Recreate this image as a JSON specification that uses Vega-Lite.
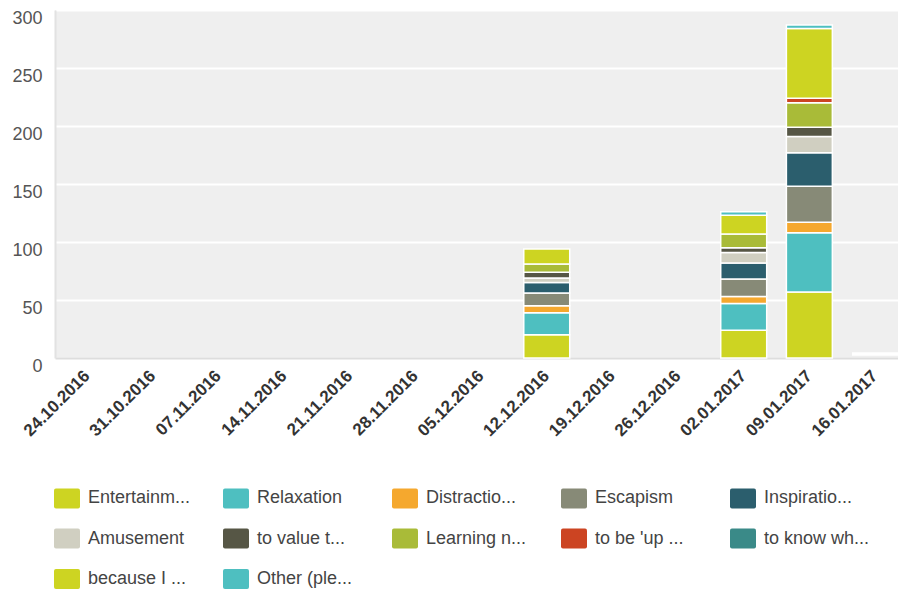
{
  "$schema": "https://vega.github.io/schema/vega-lite/v6.json",
  "width": 843,
  "height": 348,
  "autosize": "none",
  "padding": {"left": 55, "top": 10, "right": 0, "bottom": 233},
  "background": "white",
  "config": {
    "font": "Liberation Sans",
    "view": {"fill": "#efefef", "stroke": null}
  },
  "datasets": {
    "answers": [
      {"week": "12.12.2016", "motive": "Entertainm...", "rank": 1, "count": 20},
      {"week": "12.12.2016", "motive": "Relaxation", "rank": 2, "count": 19},
      {"week": "12.12.2016", "motive": "Distractio...", "rank": 3, "count": 6},
      {"week": "12.12.2016", "motive": "Escapism", "rank": 4, "count": 11},
      {"week": "12.12.2016", "motive": "Inspiratio...", "rank": 5, "count": 9},
      {"week": "12.12.2016", "motive": "Amusement", "rank": 6, "count": 4},
      {"week": "12.12.2016", "motive": "to value t...", "rank": 7, "count": 5},
      {"week": "12.12.2016", "motive": "Learning n...", "rank": 8, "count": 7},
      {"week": "12.12.2016", "motive": "because I ...", "rank": 11, "count": 13},
      {"week": "02.01.2017", "motive": "Entertainm...", "rank": 1, "count": 24},
      {"week": "02.01.2017", "motive": "Relaxation", "rank": 2, "count": 23},
      {"week": "02.01.2017", "motive": "Distractio...", "rank": 3, "count": 6},
      {"week": "02.01.2017", "motive": "Escapism", "rank": 4, "count": 15},
      {"week": "02.01.2017", "motive": "Inspiratio...", "rank": 5, "count": 14},
      {"week": "02.01.2017", "motive": "Amusement", "rank": 6, "count": 9},
      {"week": "02.01.2017", "motive": "to value t...", "rank": 7, "count": 4},
      {"week": "02.01.2017", "motive": "Learning n...", "rank": 8, "count": 12},
      {"week": "02.01.2017", "motive": "because I ...", "rank": 11, "count": 16},
      {"week": "02.01.2017", "motive": "Other (ple...", "rank": 12, "count": 3},
      {"week": "09.01.2017", "motive": "Entertainm...", "rank": 1, "count": 57},
      {"week": "09.01.2017", "motive": "Relaxation", "rank": 2, "count": 51},
      {"week": "09.01.2017", "motive": "Distractio...", "rank": 3, "count": 9},
      {"week": "09.01.2017", "motive": "Escapism", "rank": 4, "count": 31},
      {"week": "09.01.2017", "motive": "Inspiratio...", "rank": 5, "count": 29},
      {"week": "09.01.2017", "motive": "Amusement", "rank": 6, "count": 14},
      {"week": "09.01.2017", "motive": "to value t...", "rank": 7, "count": 8},
      {"week": "09.01.2017", "motive": "Learning n...", "rank": 8, "count": 21},
      {"week": "09.01.2017", "motive": "to be 'up ...", "rank": 9, "count": 4},
      {"week": "09.01.2017", "motive": "because I ...", "rank": 11, "count": 60},
      {"week": "09.01.2017", "motive": "Other (ple...", "rank": 12, "count": 3}
    ],
    "blank": [
      {"week": "16.01.2017", "lo": 2, "hi": 5}
    ]
  },
  "layer": [
    {
      "data": {"name": "answers"},
      "mark": {"type": "bar", "stroke": "white", "strokeWidth": 1.5},
      "encoding": {
        "x": {
          "field": "week",
          "type": "nominal",
          "title": null,
          "scale": {
            "domain": ["24.10.2016", "31.10.2016", "07.11.2016", "14.11.2016", "21.11.2016", "28.11.2016", "05.12.2016", "12.12.2016", "19.12.2016", "26.12.2016", "02.01.2017", "09.01.2017", "16.01.2017"],
            "paddingInner": 0.3,
            "paddingOuter": 0.07,
            "align": 1
          },
          "axis": {
            "labelAngle": -45,
            "labelAlign": "right",
            "labelBaseline": "middle",
            "labelFontSize": 17,
            "labelFontWeight": "bold",
            "labelColor": "#333333",
            "labelPadding": 15,
            "ticks": false,
            "grid": false,
            "domainColor": "#dddddd",
            "domainWidth": 2
          }
        },
        "y": {
          "field": "count",
          "type": "quantitative",
          "stack": "zero",
          "title": null,
          "scale": {"domain": [0, 300], "nice": false},
          "axis": {
            "values": [0, 50, 100, 150, 200, 250, 300],
            "grid": true,
            "gridColor": "white",
            "gridWidth": 2,
            "ticks": false,
            "domainColor": "#e2e2e2",
            "domainWidth": 2,
            "labelFontSize": 18,
            "labelColor": "#555555",
            "labelPadding": 13,
            "labelOffset": 8
          }
        },
        "color": {
          "field": "motive",
          "type": "nominal",
          "scale": {
            "domain": ["Entertainm...", "Relaxation", "Distractio...", "Escapism", "Inspiratio...", "Amusement", "to value t...", "Learning n...", "to be 'up ...", "to know wh...", "because I ...", "Other (ple..."],
            "range": ["#cdd422", "#4ebfc0", "#f5a82e", "#878a77", "#2b5e6d", "#d0cfc1", "#565645", "#a9bb38", "#cc4422", "#3a8a88", "#cdd422", "#4ebfc0"]
          },
          "legend": {
            "title": null,
            "orient": "none",
            "legendX": -1,
            "legendY": 475,
            "direction": "horizontal",
            "columns": 5,
            "gridAlign": "all",
            "columnPadding": 29,
            "rowPadding": 16.5,
            "symbolType": "M-0.85,-0.77 H0.85 Q1,-0.77 1,-0.62 V0.62 Q1,0.77 0.85,0.77 H-0.85 Q-1,0.77 -1,0.62 V-0.62 Q-1,-0.77 -0.85,-0.77 Z",
            "symbolSize": 676,
            "symbolStrokeWidth": 0,
            "symbolOpacity": 1,
            "labelFontSize": 18,
            "labelColor": "#444444",
            "labelOffset": 8,
            "labelLimit": 220
          }
        },
        "order": {"field": "rank", "type": "quantitative"}
      }
    },
    {
      "data": {"name": "blank"},
      "mark": {"type": "bar", "color": "white"},
      "encoding": {
        "x": {"field": "week", "type": "nominal"},
        "y": {"field": "lo", "type": "quantitative"},
        "y2": {"field": "hi"}
      }
    }
  ]
}
